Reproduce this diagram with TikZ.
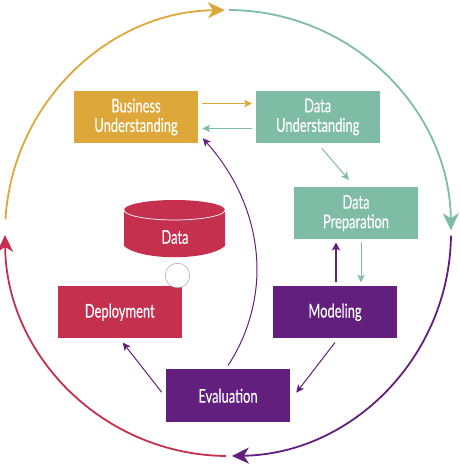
\documentclass[tikz,border=0pt]{standalone}
\usepackage{fontspec}
\setmainfont[FakeStretch=0.68,FakeBold=0.25]{Lato}
\usetikzlibrary{arrows.meta,calc}
\definecolor{cyellow}{HTML}{DDA73A}
\definecolor{cteal}{HTML}{7FBCA6}
\definecolor{cpurple}{HTML}{621F7E}
\definecolor{cred}{HTML}{C5304E}
\tikzset{
  phase/.style={minimum width=124.5pt,minimum height=52.5pt,inner sep=0pt,outer sep=0pt,text=white,
    font=\fontsize{19}{19.5}\selectfont,align=center},
  outerarc/.style={line width=1.8pt,-{Stealth[length=17pt,width=16pt,inset=5pt]}},
  thin arrow/.style={line width=1pt,-{Stealth[length=8pt,width=7.5pt,inset=2pt]}},
  thick arrow/.style={line width=1.5pt,-{Stealth[length=8pt,width=8pt,inset=2pt]}},
  lbl/.style={text=white,inner sep=0pt,font=\fontsize{19}{19.5}\selectfont}
}
\begin{document}
\begin{tikzpicture}[x=1pt,y=1pt]
\useasboundingbox (0,0) rectangle (460,467);
\coordinate (c) at (228,234);
\def\R{223}
% outer ring
\coordinate (y0) at ($(c)+(176.5:\R)$);
\coordinate (t0) at ($(c)+(89.7:\R)$);
\coordinate (p0) at ($(c)+(-0.7:\R)$);
\coordinate (r0) at ($(c)+(-90.5:\R)$);
\draw[outerarc,cyellow] (y0) arc[start angle=176.5,end angle=90.8,radius=\R pt];
\draw[outerarc,cteal] (t0) arc[start angle=89.7,end angle=0.7,radius=\R pt];
\draw[outerarc,cpurple] (p0) arc[start angle=-0.7,end angle=-89,radius=\R pt];
\draw[outerarc,cred] (r0) arc[start angle=-90.5,end angle=-179.5,radius=\R pt];
% phases
\node[phase,fill=cyellow] (bu) at (136,350) {Business\\Understanding};
\node[phase,fill=cteal] (du) at (317.75,350) {Data\\Understanding};
\node[phase,fill=cteal] (dp) at (356,253.75) {Data\\Preparation};
\node[phase,fill=cpurple] (mo) at (335,154.75) {Modeling};
\node[phase,fill=cpurple] (ev) at (228,71.25) {Evaluation};
\node[phase,fill=cred] (de) at (119.75,154.75) {Deployment};
% data store
\path[fill=cred] (124,257) arc[start angle=180,end angle=0,x radius=50.5pt,y radius=10pt]
  -- (225,221) .. controls (208,206) and (141,206) .. (124,221) -- cycle;
\draw[white,line width=0.7pt] (124,257) arc[start angle=180,end angle=360,x radius=50.5pt,y radius=10pt];
\node[lbl] (da) at (175,230) {Data};
\node[circle,draw=black!35,fill=white,line width=0.5pt,minimum size=24.6pt,inner sep=0pt] (hole) at (177.5,191.5) {};
% connectors
\draw[thin arrow,cyellow] ([xshift=4pt,yshift=13.5pt]bu.east) -- ([xshift=-3.5pt,yshift=13.5pt]du.west);
\draw[thin arrow,cteal] ([xshift=-3.5pt,yshift=-11.5pt]du.west) -- ([xshift=4pt,yshift=-11.5pt]bu.east);
\draw[thin arrow,cteal] ([xshift=4pt,yshift=-5pt]du.south) -- ([xshift=-7pt,yshift=7pt]dp.north);
\draw[thick arrow,cpurple] ([xshift=1pt,yshift=4pt]mo.north) -- ([xshift=-20pt,yshift=-3pt]dp.south);
\draw[thin arrow,cteal] ([xshift=5pt,yshift=-3pt]dp.south) -- ([xshift=5pt,yshift=3.5pt]dp.south |- mo.north);
\draw[thin arrow,cpurple] ([yshift=-4pt]mo.south) -- ([xshift=6pt,yshift=3pt]ev.east);
\draw[thin arrow,cpurple] ([xshift=-4pt,yshift=3.5pt]ev.west) -- ([xshift=3pt,yshift=-4pt]de.south);
\draw[thin arrow,cpurple] ([yshift=4pt]ev.north) .. controls +(20,30) and (257,167) .. (257,197)
  .. controls (257,242) and (240,287) .. ([xshift=4.5pt,yshift=5pt]bu.south east);
\end{tikzpicture}
\end{document}
